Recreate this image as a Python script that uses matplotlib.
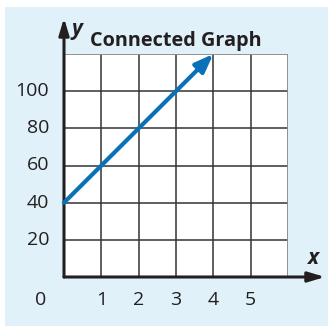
import matplotlib.pyplot as plt
from matplotlib.patches import Rectangle

# data for the connected graph
x_vals = [0, 4]
y_vals = [40, 120]
x_ticks = [1, 2, 3, 4, 5]
y_ticks = [20, 40, 60, 80, 100]

W, H = 328, 326
fig = plt.figure(figsize=(W / 100, H / 100), dpi=100)
fig.patch.set_facecolor('white')

# light blue panel behind everything
fig.patches.append(Rectangle((5 / W, 0), 1, 1 - 7 / H, transform=fig.transFigure,
                             facecolor='#e0f1fa', edgecolor='none', zorder=-10))

left, right, top, bottom = 64, 288, 54, 277
ax = fig.add_axes([left / W, 1 - bottom / H, (right - left) / W, (bottom - top) / H])
ax.set_zorder(1)
ax.set_xlim(0, 6)
ax.set_ylim(0, 120)
ax.set_facecolor('white')
for s in ax.spines.values():
    s.set_visible(False)
ax.set_xticks([])
ax.set_yticks([])

# grid
for gx in range(1, 6):
    ax.plot([gx, gx], [0, 120], color='#333333', lw=1.1, zorder=1)
for gy in range(20, 120, 20):
    ax.plot([0, 6], [gy, gy], color='#333333', lw=1.1, zorder=1)
ax.plot([0, 6, 6], [120, 120, 0], color='#888888', lw=1.3, zorder=1)

# axes with arrows
xpx = 6 / (right - left)
ypx = 120 / (bottom - top)
ax.annotate('', xy=(6 + 37 * xpx, 0), xytext=(0, 0), annotation_clip=False,
            arrowprops=dict(arrowstyle='-|>,head_length=1.0,head_width=0.3',
                            color='#231f20', lw=2.2, shrinkA=0, shrinkB=0), zorder=3)
ax.annotate('', xy=(0, 120 + 36 * ypx), xytext=(0, 0), annotation_clip=False,
            arrowprops=dict(arrowstyle='-|>,head_length=1.0,head_width=0.3',
                            color='#231f20', lw=2.2, shrinkA=0, shrinkB=0), zorder=3)

# the line
ax.annotate('', xy=(x_vals[1], y_vals[1]), xytext=(x_vals[0], y_vals[0]),
            annotation_clip=False,
            arrowprops=dict(arrowstyle='-|>,head_length=1.1,head_width=0.42',
                            color='#0a71b9', lw=3, shrinkA=0, shrinkB=0), zorder=4)

# tick labels
fs = 14
for t in x_ticks:
    ax.text(t, -23 * ypx, str(t), ha='center', va='center', fontsize=fs,
            color='#231f20', family='Open Sans')
ax.text(-23 * xpx, -23 * ypx, '0', ha='center', va='center', fontsize=fs,
        color='#231f20', family='Open Sans')
for t in y_ticks:
    ax.text(-15 * xpx, t, str(t), ha='right', va='center', fontsize=fs,
            color='#231f20', family='Open Sans')

# axis names and title
ax.text(6 + 25 * xpx, 19 * ypx, 'x', ha='center', va='center', fontsize=15,
        style='italic', weight='bold', color='#231f20', family='Open Sans')
ax.text(13 * xpx, 120 + 25 * ypx, 'y', ha='center', va='center', fontsize=15,
        style='italic', weight='bold', color='#231f20', family='Open Sans')
ax.text(3, 120 + 13 * ypx, 'Connected Graph', ha='center', va='center', fontsize=14.3,
        weight='bold', color='#231f20', family='Open Sans')

fig.savefig('out.png', dpi=100, facecolor=fig.get_facecolor())
